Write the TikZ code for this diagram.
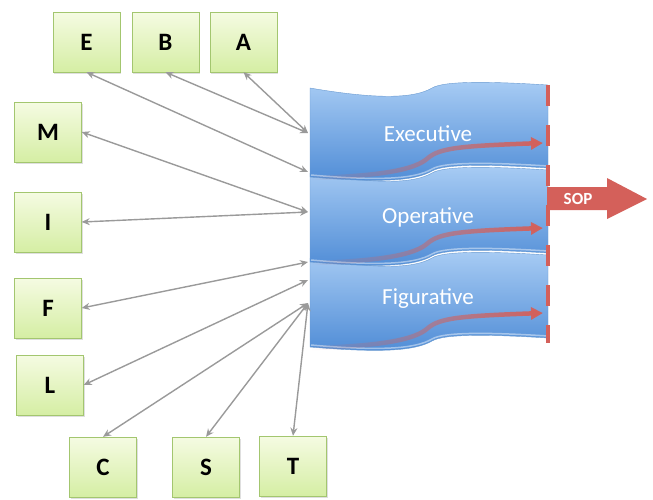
\documentclass[tikz,border=0pt]{standalone}
\usepackage{fontspec}
\setmainfont{Carlito}
\usetikzlibrary{positioning,arrows.meta,shadows,fadings}
\definecolor{boxtop}{HTML}{F5FBE2}
\definecolor{boxbot}{HTML}{D5EEA4}
\definecolor{boxline}{HTML}{A3C66F}
\definecolor{flagtop}{HTML}{A8CCF4}
\definecolor{flagbot}{HTML}{4F8CD6}
\definecolor{flagline}{HTML}{6A9AD0}
\definecolor{sopred}{HTML}{D4605A}
\definecolor{linkgray}{HTML}{9A9A9A}
\tikzfading[name=redfade, left color=transparent!100, middle color=transparent!15, right color=transparent!0]
\tikzset{
  letterbox/.style={draw=boxline, top color=boxtop, bottom color=boxbot,
    minimum width=67pt, minimum height=60pt, inner sep=0pt,
    font=\fontsize{25}{27}\selectfont\bfseries,
    drop shadow={opacity=0.25,shadow xshift=1pt,shadow yshift=-1.5pt}},
  link/.style={linkgray, line width=1.4pt,
    {Stealth[length=8pt,width=7pt]}-{Stealth[length=8pt,width=7pt]}},
  flag/.style={draw=flagline, line width=0.4pt, top color=flagtop, bottom color=flagbot},
  flow/.style={sopred, line width=4.5pt, -{Triangle[length=12pt,width=12pt]}, path fading=redfade},
  layer/.style={text=white, font=\fontsize{23}{25}\selectfont},
}
% one wavy layer, #1 = vertical offset
\newcommand{\flagshape}[1]{%
  \path[flag] (310,88+#1) .. controls (380,100+#1) and (415,98+#1) .. (432,88+#1)
    .. controls (445,80+#1) and (500,82+#1) .. (548,85+#1) -- (548,168+#1)
    .. controls (500,165+#1) and (445,163+#1) .. (432,171+#1)
    .. controls (415,181+#1) and (380,183+#1) .. (310,177+#1) -- cycle;
  \draw[white, opacity=0.45, line width=1.5pt] (548,166+#1)
    .. controls (500,163+#1) and (445,161+#1) .. (432,169+#1)
    .. controls (415,179+#1) and (380,181+#1) .. (311,175+#1);
  \draw[flow] (312,178+#1) .. controls (380,176+#1) and (415,170+#1) .. (428,158+#1)
    .. controls (440,148+#1) and (460,146+#1) .. (543,143+#1);
}

\begin{document}
\begin{tikzpicture}[x=1pt,y=-1pt]
\useasboundingbox (0,0) rectangle (653,499);

% layers
\flagshape{170}
\flagshape{85}
\flagshape{0}
\node[layer] (exec) at (428,134) {Executive};
\node[layer] (oper) at (428,217) {Operative};
\node[layer] (figu) at (428,299) {Figurative};

% output arrow
\fill[sopred] (547,187) -- (607,187) -- (607,178) -- (647,199) -- (607,219) -- (607,210) -- (547,210) -- cycle;
\node[text=white, font=\fontsize{17}{18}\selectfont\bfseries] (sop) at (578,199) {SOP};
\draw[sopred, line width=4pt, dash pattern=on 21pt off 19pt] (548,85) -- (548,343);

% sources
\node[letterbox] (E) at (86.5,42) {E};
\node[letterbox] (B) at (165.5,42) {B};
\node[letterbox] (A) at (243.5,42) {A};
\node[letterbox] (M) at (48,132) {M};
\node[letterbox] (I) at (48,222) {I};
\node[letterbox] (F) at (48,308) {F};
\node[letterbox] (L) at (50,385) {L};
\node[letterbox] (C) at (103,467) {C};
\node[letterbox] (S) at (206,467) {S};
\node[letterbox] (T) at (293,466) {T};

\coordinate (toexec) at (308,133);
\coordinate (execlow) at (308,172);
\coordinate (tooper) at (308,212);
\coordinate (operlow) at (308,262);
\coordinate (figtop) at (308,280);
\coordinate (tofig) at (308,303);

\foreach \from/\to in {A.south/toexec, B.south/toexec, E.south/execlow,
  M.east/tooper, I.east/tooper, F.east/operlow, L.east/figtop,
  C.north/tofig, S.north/tofig, T.north/tofig}
  \draw[link] (\from) -- (\to);
\end{tikzpicture}
\end{document}
